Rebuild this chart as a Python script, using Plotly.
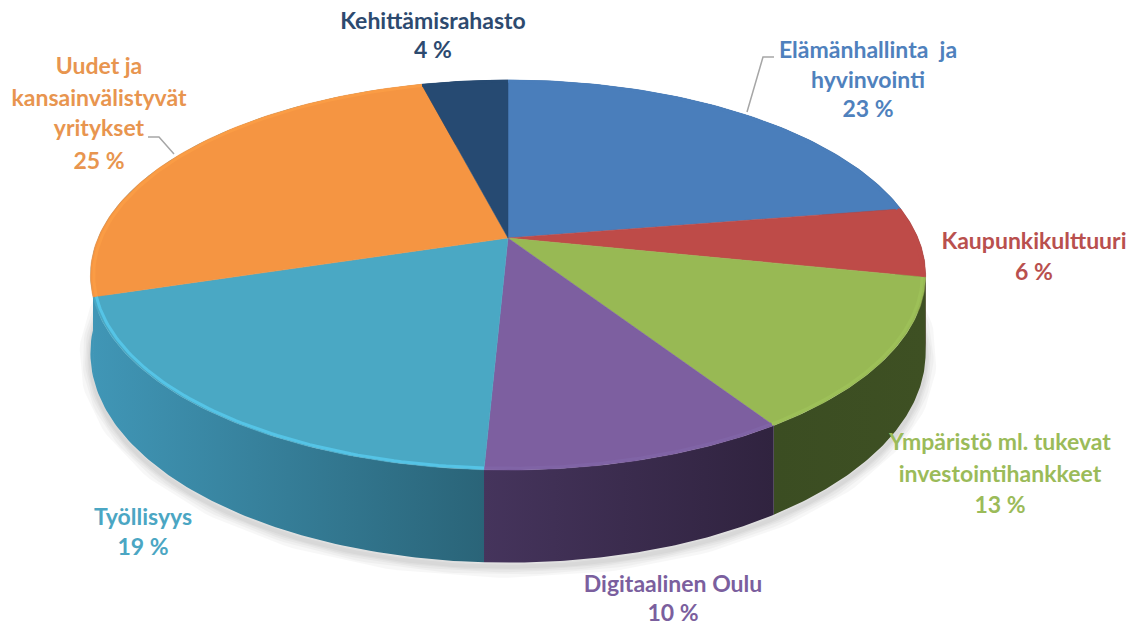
import numpy as np
import plotly.graph_objects as go

# Data, clockwise from 12 o'clock
categories = ["Elämänhallinta ja hyvinvointi", "Kaupunkikulttuuri",
              "Ympäristö ml. tukevat investointihankkeet", "Digitaalinen Oulu",
              "Työllisyys", "Uudet ja kansainvälistyvät yritykset", "Kehittämisrahasto"]
values = [23, 6, 13, 10, 19, 25, 4]
label_lines = [["Elämänhallinta  ja", "hyvinvointi", "23 %"],
               ["Kaupunkikulttuuri", "6 %"],
               ["Ympäristö ml. tukevat", "investointihankkeet", "13 %"],
               ["Digitaalinen Oulu", "10 %"],
               ["Työllisyys", "19 %"],
               ["Uudet ja", "kansainvälistyvät", "yritykset", "25 %"],
               ["Kehittämisrahasto", "4 %"]]

# Styles
top_colors = ["#4a7ebb", "#be4b48", "#98b954", "#7d5fa0", "#4aa8c4", "#f59542", "#264a72"]
rim_colors = ["#4a7ebb", "#be4b48", "#9dc058", "#8064a6", "#55c4e6", "#fa9c45", "#264a72"]
wall_left = ["#27466b", "#5a2826", "#3b4d22", "#45345c", "#4096b6", "#4096b6", "#17304f"]
wall_right = ["#27466b", "#4a2220", "#3e5023", "#30233f", "#2a6478", "#4096b6", "#17304f"]
text_colors = ["#4f81bd", "#b9504e", "#9bbb59", "#7b5f9e", "#4ba6c3", "#e8954f", "#2d4a6f"]
label_x = [868, 1034, 1000, 673, 143, 99, 433]
label_y = [[52, 82, 111], [243, 274], [444, 476, 507], [586, 615], [519, 549],
           [68, 100, 130, 163], [23, 52]]

# Projection of the tilted disc on to the page
CX, CY, A, B, K, WARP, DEPTH = 508, 238, 410, 188, 0.19, np.radians(4.5), 75


def project(theta, r=1.0, drop=False):
    t = theta - WARP * (1 - np.cos(theta)) / 2
    w = 1 + K * np.cos(t)
    x = CX + r * A * np.sin(t) / w
    y = CY - r * B * np.cos(t) / w
    if drop:
        y = y + DEPTH / w
    return x, y


edges = np.cumsum([0] + values) / sum(values) * 2 * np.pi
fig = go.Figure()

# soft shadow under the disc
shadow_t = np.radians(np.linspace(85, 285, 160))
for width in (22, 16, 11, 7, 4):
    sx, sy = project(shadow_t, 1.0, True)
    fig.add_trace(go.Scatter(x=sx, y=sy + 4, mode="lines", hoverinfo="skip",
                             line=dict(color="rgba(0,0,0,0.03)", width=width)))

# side walls
for i in range(len(values)):
    t = np.linspace(edges[i], edges[i + 1], 80)
    x1, y1 = project(t)
    x2, y2 = project(t[::-1], 1.0, True)
    fig.add_trace(go.Scatter(
        x=np.r_[x1, x2], y=np.r_[y1, y2], mode="lines", fill="toself", hoverinfo="skip",
        line=dict(width=0, color=wall_right[i]),
        fillgradient=dict(type="horizontal",
                          colorscale=[[0, wall_left[i]], [1, wall_right[i]]])))

# top faces
for i in range(len(values)):
    t = np.linspace(edges[i], edges[i + 1], 80)
    x, y = project(t)
    fig.add_trace(go.Scatter(
        x=np.r_[CX, x, CX], y=np.r_[CY, y, CY], mode="lines", fill="toself",
        fillcolor=top_colors[i], line=dict(width=0.5, color=top_colors[i]),
        name=categories[i], text=f"{values[i]} %", hoverinfo="name+text"))

# bevel highlight along the rim
for i in range(len(values)):
    t = np.linspace(edges[i], edges[i + 1], 80)
    x, y = project(t, 0.992)
    fig.add_trace(go.Scatter(x=x, y=y, mode="lines", hoverinfo="skip",
                             line=dict(width=3, color=rim_colors[i])))

# labels
for i, lines in enumerate(label_lines):
    fig.add_trace(go.Scatter(
        x=[label_x[i]] * len(lines), y=label_y[i], text=lines, mode="text",
        textposition="middle center", hoverinfo="skip",
        textfont=dict(family="Lato", size=23, color=text_colors[i], weight=700)))

leader = "#a6a6a6"
fig.update_layout(
    width=1134, height=626, autosize=False, showlegend=False,
    margin=dict(l=0, r=0, t=0, b=0),
    paper_bgcolor="white", plot_bgcolor="white",
    xaxis=dict(range=[0, 1134], visible=False, fixedrange=True),
    yaxis=dict(range=[626, 0], visible=False, fixedrange=True),
    shapes=[
        dict(type="path", path="M 774 57 L 763 57 L 747 112",
             line=dict(color=leader, width=1.5), layer="below"),
        dict(type="path", path="M 148 137 L 159 137 L 174 154",
             line=dict(color=leader, width=1.5), layer="below"),
    ],
)
fig.write_html("out.html", config={"displayModeBar": False},
               post_script="document.body.style.margin='0';document.documentElement.style.overflow='hidden';")
